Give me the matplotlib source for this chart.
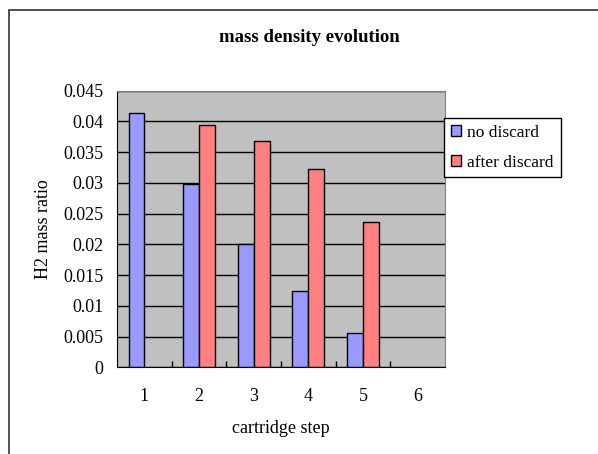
import matplotlib
matplotlib.use("Agg")
import matplotlib.pyplot as plt
from matplotlib.patches import Rectangle

# data
steps = [1, 2, 3, 4, 5, 6]
no_discard = [0.0413, 0.0298, 0.0201, 0.0124, 0.0056, None]
after_discard = [None, 0.0394, 0.0368, 0.0322, 0.0237, None]
yticks = [0, 0.005, 0.01, 0.015, 0.02, 0.025, 0.03, 0.035, 0.04, 0.045]
ytick_labels = ["0", "0.005", "0.01", "0.015", "0.02", "0.025", "0.03", "0.035", "0.04", "0.045"]

plt.rcParams['font.family'] = ['Liberation Serif', 'DejaVu Serif']
fs = 13

fig = plt.figure(figsize=(5.98, 4.54), dpi=100)
ax = fig.add_axes([0.1957, 0.1910, 0.7441 - 0.1957, 0.8002 - 0.1910])
ax.set_facecolor("#C0C0C0")
ax.set_axisbelow(True)

w = 0.29
xb = [s - w / 2 for s, v in zip(steps, no_discard) if v is not None]
yb = [v for v in no_discard if v is not None]
xr = [s + w / 2 for s, v in zip(steps, after_discard) if v is not None]
yr = [v for v in after_discard if v is not None]
ax.bar(xb, yb, width=w, color="#9999FF", edgecolor="black", linewidth=1, label="no discard")
ax.bar(xr, yr, width=w, color="#FF8080", edgecolor="black", linewidth=1, label="after discard")

ax.set_xlim(0.5, 6.5)
ax.set_ylim(0, 0.045)
ax.set_yticks(yticks)
ax.set_yticklabels(ytick_labels, fontsize=fs)
ax.yaxis.grid(True, color="black", linewidth=1)
ax.set_xticks(steps)
ax.set_xticklabels([str(s) for s in steps], fontsize=fs)
ax.set_xticks([1.5, 2.5, 3.5, 4.5, 5.5], minor=True)
ax.tick_params(axis="x", which="major", length=0, pad=15)
ax.tick_params(axis="x", which="minor", direction="in", length=4, width=1, color="black")
ax.tick_params(axis="y", length=0, pad=10)

for side in ["top", "right"]:
    ax.spines[side].set_color("#808080")
ax.spines["left"].set_color("black")
ax.spines["bottom"].set_color("black")

ax.set_xlabel("cartridge step", fontsize=fs, labelpad=11)
ax.set_ylabel("H2 mass ratio", fontsize=fs, labelpad=8)
fig.text(0.517, 0.918, "mass density evolution", fontsize=13.5, fontweight="bold",
         ha="center", va="center")

fig.legend(loc="upper left", bbox_to_anchor=(0.7425, 0.7407), frameon=True,
           fancybox=False, edgecolor="black", framealpha=1, fontsize=12.5,
           handlelength=0.6, handleheight=0.6, handletextpad=0.35,
           labelspacing=0.8, borderpad=0.4, borderaxespad=0)

# outer chart frame (only left and top edges visible)
fig.add_artist(Rectangle((9 / 598, -0.2), 1.2, 1.2 - 10 / 454, transform=fig.transFigure,
                         fill=False, edgecolor="#333333", linewidth=1.2, clip_on=False))

fig.savefig("out.png", dpi=100)
